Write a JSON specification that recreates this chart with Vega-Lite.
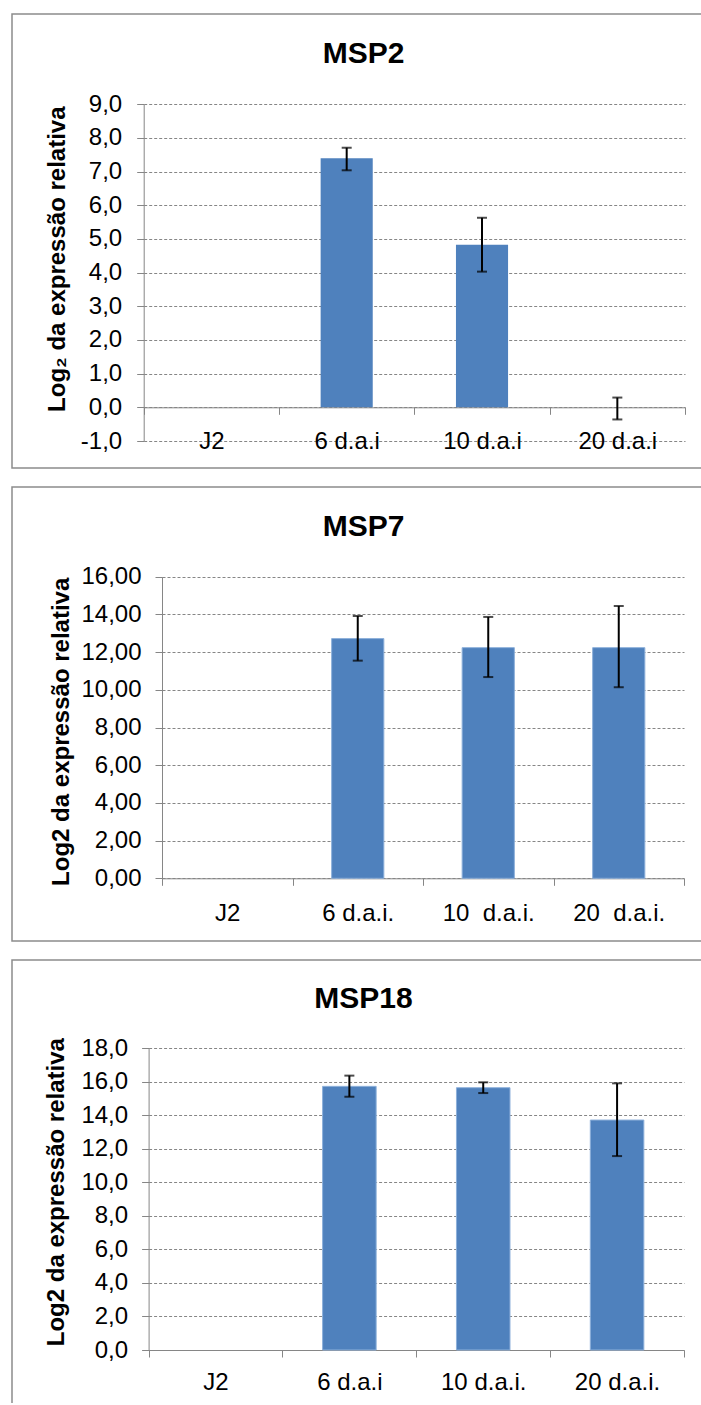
{
  "$schema": "https://vega.github.io/schema/vega-lite/v6.json",
  "padding": {"left": 11, "top": 13, "right": 0, "bottom": 0},
  "spacing": 17,
  "config": {
    "font": "Liberation Sans",
    "axis": {"labelColor": "#000000", "titleColor": "#000000", "labelFontSize": 24, "titleFontSize": 24, "titleFontWeight": "bold", "domainColor": "#868686", "tickColor": "#868686", "gridColor": "#868686", "gridDash": [3, 2], "tickSize": 7},
    "title": {"color": "#000000", "fontSize": 30, "fontWeight": "bold"}
  },
  "datasets": {
    "msp2": [
      {"cond": "J2", "value": null, "lo": null, "hi": null},
      {"cond": "6 d.a.i", "value": 7.40, "lo": 7.04, "hi": 7.71},
      {"cond": "10 d.a.i", "value": 4.83, "lo": 4.03, "hi": 5.63},
      {"cond": "20 d.a.i", "value": 0, "lo": -0.36, "hi": 0.29}
    ],
    "msp7": [
      {"cond": "J2", "value": null, "lo": null, "hi": null},
      {"cond": "6 d.a.i.", "value": 12.72, "lo": 11.55, "hi": 13.92},
      {"cond": "10\u00a0 d.a.i.", "value": 12.24, "lo": 10.68, "hi": 13.87},
      {"cond": "20\u00a0 d.a.i.", "value": 12.24, "lo": 10.14, "hi": 14.45}
    ],
    "msp18": [
      {"cond": "J2", "value": null, "lo": null, "hi": null},
      {"cond": "6 d.a.i", "value": 15.73, "lo": 15.11, "hi": 16.37},
      {"cond": "10 d.a.i.", "value": 15.65, "lo": 15.33, "hi": 15.97},
      {"cond": "20 d.a.i.", "value": 13.72, "lo": 11.57, "hi": 15.91}
    ]
  },
  "vconcat": [
    {
      "width": 689, "height": 454,
      "view": {"stroke": "#8c8c8c", "strokeWidth": 1.5, "strokeDash": [689, 454, 1143]},
      "title": {"text": "MSP2", "offset": -54.6, "baseline": "top", "anchor": "middle", "frame": "group", "dx": 7},
      "data": {"name": "msp2"},
      "layer": [
        {
          "mark": {"type": "bar", "color": "#4F81BD", "width": {"band": 0.385}},
          "encoding": {
            "x": {"field": "cond", "type": "nominal", "sort": null,
              "scale": {"domain": ["J2", "6 d.a.i", "10 d.a.i", "20 d.a.i"], "range": [131.7, 673], "paddingInner": 0, "paddingOuter": 0},
              "axis": {"title": null, "orient": "bottom", "offset": -60.7, "tickBand": "extent", "labelPadding": 27, "labelBaseline": "middle", "labelAngle": 0, "grid": false}},
            "y": {"field": "value", "type": "quantitative", "title": "Log₂ da expressão relativa",
              "scale": {"domain": [-1, 9], "range": [427, 90.3], "nice": false, "zero": false},
              "axis": {"offset": -131.7, "values": [-1, 0, 1, 2, 3, 4, 5, 6, 7, 8, 9], "labelExpr": "replace(replace(format(datum.value, '.1f'), '.', ','), '\u2212', '-')", "labelPadding": 15, "grid": true, "titleX": -86.7, "titleY": 244.7, "titleBaseline": "middle", "titleAngle": 270}}
          }
        },
        {
          "mark": {"type": "errorbar", "color": "#000000", "thickness": 2, "size": 10, "ticks": true},
          "encoding": {
            "x": {"field": "cond", "type": "nominal", "sort": null},
            "y": {"field": "lo", "type": "quantitative", "title": "Log₂ da expressão relativa"},
            "y2": {"field": "hi"}
          }
        }
      ]
    },
    {
      "width": 689, "height": 454,
      "view": {"stroke": "#8c8c8c", "strokeWidth": 1.5, "strokeDash": [689, 454, 1143]},
      "title": {"text": "MSP7", "offset": -54.6, "baseline": "top", "anchor": "middle", "frame": "group", "dx": 7},
      "data": {"name": "msp7"},
      "layer": [
        {
          "mark": {"type": "bar", "color": "#4F81BD", "stroke": "#8DB0DA", "strokeWidth": 1, "width": {"band": 0.4}},
          "encoding": {
            "x": {"field": "cond", "type": "nominal", "sort": null,
              "scale": {"domain": ["J2", "6 d.a.i.", "10\u00a0 d.a.i.", "20\u00a0 d.a.i."], "range": [150, 672], "paddingInner": 0, "paddingOuter": 0},
              "axis": {"title": null, "orient": "bottom", "offset": -62.7, "tickBand": "extent", "labelPadding": 28, "labelBaseline": "middle", "labelAngle": 0, "grid": false}},
            "y": {"field": "value", "type": "quantitative", "title": "Log2 da expressão relativa",
              "scale": {"domain": [0, 16], "range": [391.3, 89.8], "nice": false, "zero": false},
              "axis": {"offset": -150, "values": [0, 2, 4, 6, 8, 10, 12, 14, 16], "labelExpr": "replace(format(datum.value, '.2f'), '.', ',')", "labelPadding": 14, "grid": true, "titleX": -101, "titleY": 244.3, "titleBaseline": "middle", "titleAngle": 270}}
          }
        },
        {
          "mark": {"type": "errorbar", "color": "#000000", "thickness": 2, "size": 10, "ticks": true},
          "encoding": {
            "x": {"field": "cond", "type": "nominal", "sort": null},
            "y": {"field": "lo", "type": "quantitative", "title": "Log2 da expressão relativa"},
            "y2": {"field": "hi"}
          }
        }
      ]
    },
    {
      "width": 689, "height": 443,
      "view": {"stroke": "#8c8c8c", "strokeWidth": 1.5, "strokeDash": [689, 1132, 443]},
      "title": {"text": "MSP18", "offset": -53.6, "baseline": "top", "anchor": "middle", "frame": "group", "dx": 7},
      "data": {"name": "msp18"},
      "layer": [
        {
          "mark": {"type": "bar", "color": "#4F81BD", "stroke": "#8DB0DA", "strokeWidth": 1, "width": {"band": 0.4}},
          "encoding": {
            "x": {"field": "cond", "type": "nominal", "sort": null,
              "scale": {"domain": ["J2", "6 d.a.i", "10 d.a.i.", "20 d.a.i."], "range": [136.6, 672], "paddingInner": 0, "paddingOuter": 0},
              "axis": {"title": null, "orient": "bottom", "offset": -53, "tickBand": "extent", "labelPadding": 25, "labelBaseline": "middle", "labelAngle": 0, "grid": false}},
            "y": {"field": "value", "type": "quantitative", "title": "Log2 da expressão relativa",
              "scale": {"domain": [0, 18], "range": [390, 88.3], "nice": false, "zero": false},
              "axis": {"offset": -136.6, "values": [0, 2, 4, 6, 8, 10, 12, 14, 16, 18], "labelExpr": "replace(format(datum.value, '.1f'), '.', ',')", "labelPadding": 14, "grid": true, "titleX": -92.6, "titleY": 231.7, "titleBaseline": "middle", "titleAngle": 270}}
          }
        },
        {
          "mark": {"type": "errorbar", "color": "#000000", "thickness": 2, "size": 10, "ticks": true},
          "encoding": {
            "x": {"field": "cond", "type": "nominal", "sort": null},
            "y": {"field": "lo", "type": "quantitative", "title": "Log2 da expressão relativa"},
            "y2": {"field": "hi"}
          }
        }
      ]
    }
  ]
}
